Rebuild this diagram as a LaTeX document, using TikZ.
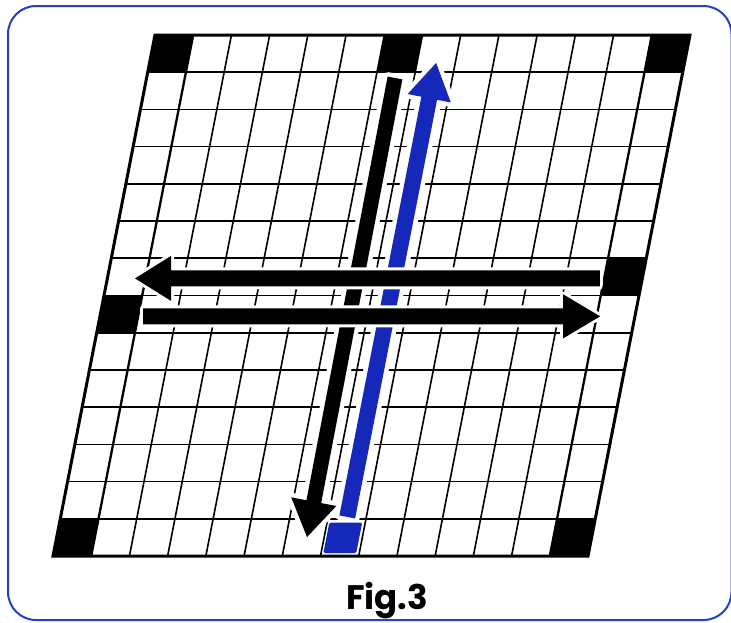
\documentclass[tikz,border=0pt]{standalone}
\usepackage{fontspec}
\newfontfamily\capfont{Poppins}
\usetikzlibrary{calc}
\definecolor{figblue}{RGB}{22,40,185}
\definecolor{frameblue}{RGB}{35,65,200}
% arrow outline: #1 tail, #2 head base, #3 tip, #4 half shaft width, #5 half head width
\newcommand{\arrowpoly}[5]{($(#1)!#4!90:(#3)$) -- ($(#2)!#4!90:(#3)$) -- ($(#2)!#5!90:(#3)$) -- (#3) -- ($(#2)!#5!-90:(#3)$) -- ($(#2)!#4!-90:(#3)$) -- ($(#1)!#4!-90:(#3)$) -- cycle}
\tikzset{
  gridline/.style={line width=1.6pt, black},
  cellline/.style={line width=2.3pt, black},
  borderline/.style={line width=3pt, black, line join=miter},
  vhalo/.style={draw=white, line width=9pt, line join=round},
  hhalo/.style={draw=white, line width=6pt, line join=round},
  blackcell/.style={fill=black},
  bluecell/.style={fill=figblue, rounded corners=1.5pt},
  framebox/.style={draw=frameblue, line width=2pt, rounded corners=28pt},
  captext/.style={font=\capfont\bfseries\fontsize{34}{36}\selectfont, inner sep=0pt}
}
\begin{document}
\begin{tikzpicture}[x=1pt, y=-1pt]
\useasboundingbox (0,0) rectangle (731,622);
\fill[white] (0,0) rectangle (731,622);

\begin{scope}[shift={(155,35)}, x={(38.214pt,0pt)}, y={(-7.2857pt,-37.214pt)}]
  % grid lines
  \foreach \i in {2,...,12} {
    \draw[gridline] (\i,0) -- (\i,14);
    \draw[gridline] (0,\i) -- (14,\i);
  }
  \foreach \i in {1,13} {
    \draw[cellline] (\i,0) -- (\i,14);
    \draw[cellline] (0,\i) -- (14,\i);
  }
  \draw[borderline] (0,0) -- (14,0) -- (14,14) -- (0,14) -- cycle;
  % arrow end points
  \coordinate (btail) at (6.5,1.155);
  \coordinate (btip)  at (6.55,13.49);
  \coordinate (ltail) at (7.5,12.95);
  \coordinate (ltip)  at (7.5,0.75);
  \coordinate (utail) at (12.89,6.54);
  \coordinate (utip)  at (0.725,6.54);
  \coordinate (dtail) at (1.128,7.56);
  \coordinate (dtip)  at (13.09,7.56);
  % cell corners for squares
  \coordinate (c00) at (0,0);
  \coordinate (c60) at (6,0);
  \coordinate (c130) at (13,0);
  \coordinate (c07) at (0,7);
  \coordinate (c136) at (13,6);
  \coordinate (c013) at (0,13);
  \coordinate (c1313) at (13,13);
  \coordinate (c713) at (7,13);
\end{scope}

\coordinate (bbase) at ($(btip)!36pt!(btail)$);
\coordinate (lbase) at ($(ltip)!36pt!(ltail)$);
\coordinate (ubase) at ($(utip)!36pt!(utail)$);
\coordinate (dbase) at ($(dtip)!37pt!(dtail)$);

% vertical arrows
\path[vhalo] \arrowpoly{btail}{bbase}{btip}{7.5pt}{23pt};
\path[vhalo] \arrowpoly{ltail}{lbase}{ltip}{8pt}{22pt};
\fill[black] \arrowpoly{btail}{bbase}{btip}{7.5pt}{23pt};
\fill[figblue] \arrowpoly{ltail}{lbase}{ltip}{8pt}{22pt};

% horizontal arrows
\path[hhalo] \arrowpoly{utail}{ubase}{utip}{8pt}{22.5pt};
\path[hhalo] \arrowpoly{dtail}{dbase}{dtip}{8pt}{22pt};
\fill[black] \arrowpoly{utail}{ubase}{utip}{8pt}{22.5pt};
\fill[black] \arrowpoly{dtail}{dbase}{dtip}{8pt}{22pt};

% black and blue squares
\begin{scope}[x={(38.214pt,0pt)}, y={(-7.2857pt,-37.214pt)}]
  \foreach \c in {c00,c60,c130,c07,c136,c013,c1313} {
    \fill[blackcell] (\c) -- ++(1,0) -- ++(0,1) -- ++(-1,0) -- cycle;
  }
  \fill[bluecell] ($(c713)+(0.06,0.1)$) -- ++(0.86,0) -- ++(0,0.82) -- ++(-0.86,0) -- cycle;
\end{scope}

% frame and caption
\draw[framebox] (8,6) rectangle (731.5,620);
\node[captext] (caption) at (387,601) {Fig.3};
\end{tikzpicture}
\end{document}
